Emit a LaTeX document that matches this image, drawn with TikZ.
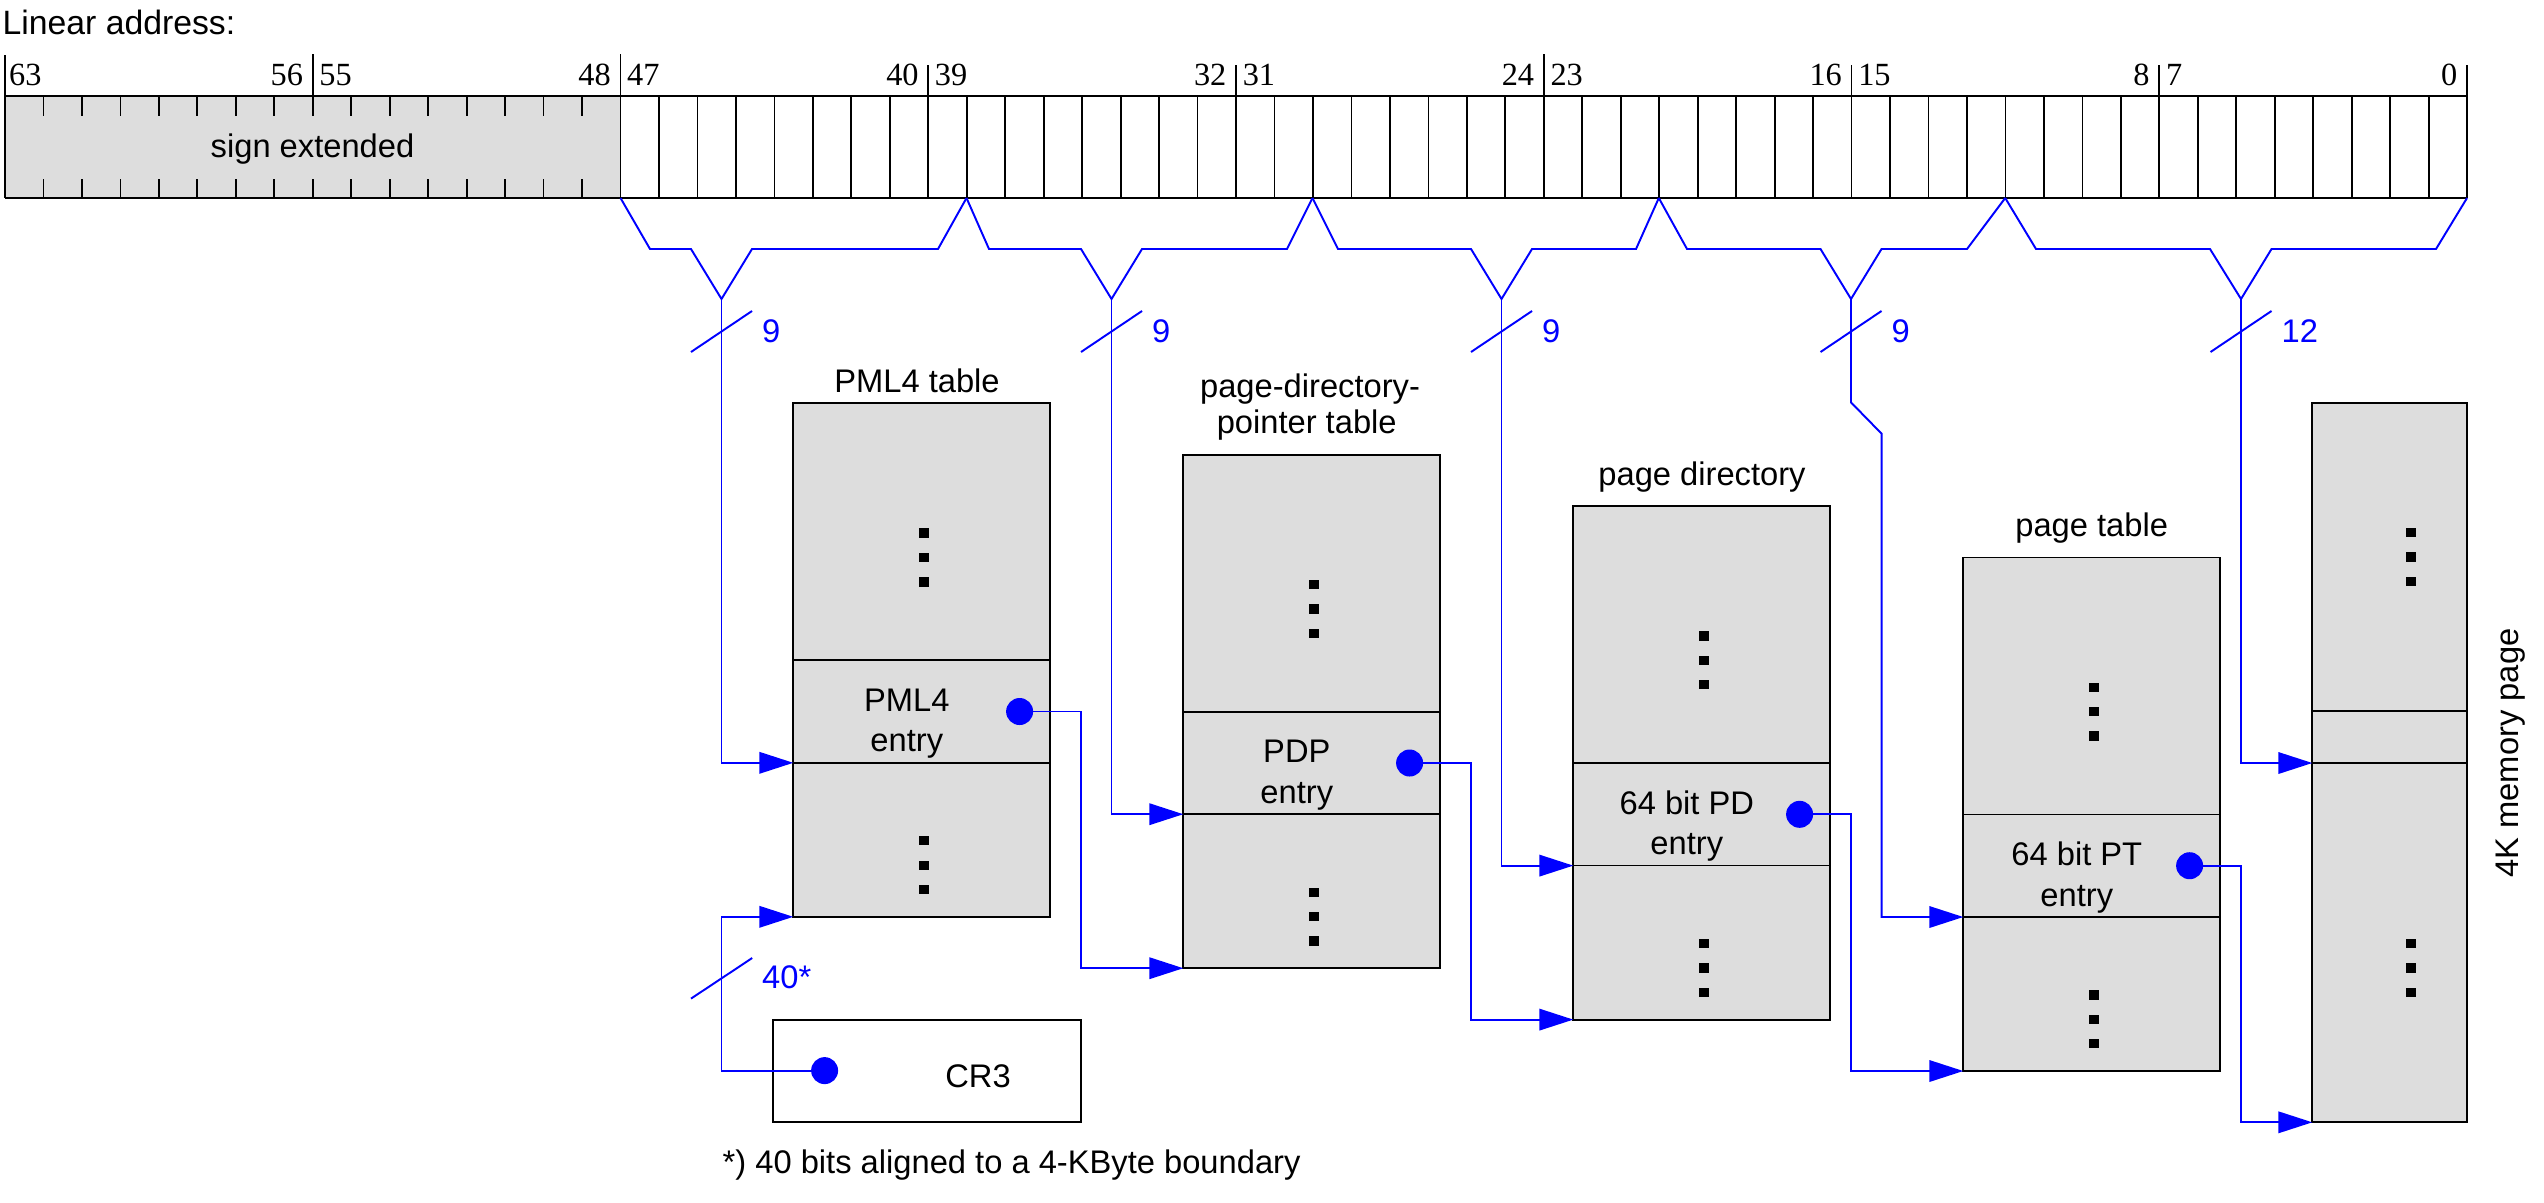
\documentclass[tikz,border=0pt]{standalone}
\usepackage{fontspec}
\setmainfont{Liberation Sans}
\newfontfamily\serifnum{Liberation Serif}
\usetikzlibrary{arrows.meta,calc}
\definecolor{cellgray}{RGB}{221,221,221}
\definecolor{lblue}{RGB}{0,0,255}
\newcommand\mydots[2]{%
  \foreach \dd in {-24.4,0,24.4}{\fill[black] ($(#1,#2)+(-4.65,\dd-4.65)$) rectangle ++(9.3,9.3);}}
\begin{document}
\begin{tikzpicture}[x=0.1mm,y=-0.1mm,
  box/.style={draw=black, line width=0.55pt, fill=cellgray},
  thin/.style={draw=black, line width=0.5pt},
  wire/.style={draw=lblue, line width=0.55pt},
  arr/.style={wire, -{Triangle[length=3.4mm,width=2.15mm]}},
  lbl/.style={font=\fontsize{9.3}{11}\selectfont, inner sep=0},
  num/.style={font=\fontsize{9.2}{10}\serifnum, inner sep=0},
  bl/.style={font=\fontsize{9.3}{11}\selectfont, text=lblue, inner sep=0},
  dot/.style={circle, fill=lblue, inner sep=0, minimum size=2.7mm},
]
\useasboundingbox (0,0) rectangle (2544,1202);

% ---------- linear address register ----------
\node[lbl, font=\fontsize{9.6}{11}\selectfont, anchor=base west] (linaddr) at (2,34) {Linear address:};
\fill[cellgray] (5,96) rectangle (620.5,198);
\foreach \k in {1,2,3,4,5,6,7,8,9,10,11,12,13,14,15}{
  \pgfmathsetmacro\xx{5+38.47*\k}
  \draw[thin] (\xx,96) -- (\xx,115.5);
  \draw[thin] (\xx,198) -- (\xx,178.5);
}
\foreach \k in {17,...,23,25,26,...,31,33,34,...,39,41,42,...,47,49,50,...,55,57,58,...,63}{
  \pgfmathsetmacro\xx{5+38.47*\k}
  \draw[thin] (\xx,96) -- (\xx,198);
}
\foreach \k/\yt in {0/55,16/54,40/54,24/65,32/65,48/65,56/65,64/65}{
  \pgfmathsetmacro\xx{5+38.47*\k}
  \draw[thin] (\xx,\yt) -- (\xx,198);
}
\draw[thin] (312.8,54) -- (312.8,96);
\draw[thin] (5,96) -- (2467,96);
\draw[black, line width=0.8pt] (5,198) -- (2467,198);
\node[lbl, anchor=base] (signext) at (312.5,157) {sign extended};

% bit numbers
\foreach \k/\lft/\rgt in {8/56/55,16/48/47,24/40/39,32/32/31,40/24/23,48/16/15,56/8/7}{
  \pgfmathsetmacro\xx{5+38.47*\k}
  \node[num, anchor=base east] (nl\k) at (\xx-9,85) {\lft};
  \node[num, anchor=base west] (nr\k) at (\xx+6,85) {\rgt};
}
\node[num, anchor=base west] (n63) at (8.5,85) {63};
\node[num, anchor=base east] (n0) at (2458,85) {0};

% register boundary points
\coordinate (b16) at (620.5,198);
\coordinate (b25) at (966.5,198);
\coordinate (b34) at (1312.5,198);
\coordinate (b43) at (1658.8,198);
\coordinate (b52) at (2005.2,198);
\coordinate (b64) at (2467,198);
\coordinate (ap1) at (721.5,299);
\coordinate (ap2) at (1111.5,299);
\coordinate (ap3) at (1501.5,299);
\coordinate (ap4) at (1851,299);
\coordinate (ap5) at (2241,299);

% brackets
\draw[wire] (b16) -- (650,249) -- (691,249) -- (ap1) -- (752,249) -- (938,249) -- (b25);
\draw[wire] (b25) -- (989,249) -- (1081,249) -- (ap2) -- (1142,249) -- (1287,249) -- (b34);
\draw[wire] (b34) -- (1338,249) -- (1471,249) -- (ap3) -- (1532,249) -- (1636,249) -- (b43);
\draw[wire] (b43) -- (1687,249) -- (1820.5,249) -- (ap4) -- (1881.5,249) -- (1967,249) -- (b52);
\draw[wire] (b52) -- (2036,249) -- (2210,249) -- (ap5) -- (2271.5,249) -- (2436,249) -- (b64);

% width slashes and labels
\foreach \X/\n/\t in {721.5/1/9,1111.5/2/9,1501.5/3/9,1851/4/9,2241/5/12}{
  \draw[wire] (\X-30.5,352) -- (\X+30.5,311);
  \node[bl, anchor=base west] (w\n) at (\X+40,342.3) {\t};
}

% ---------- tables ----------
% PML4 (i=0)
\draw[box] (793.3,403.3) rectangle (1050.3,916.8);
\draw[thin] (793.3,660.3) -- (1050.3,660.3);
\draw[thin] (793.3,762.8) -- (1050.3,762.8);
\coordinate (pmlF) at (793.3,762.8);
\coordinate (pmlB) at (793.3,916.8);
\node[lbl, anchor=base] (pmlt) at (917,392.3) {PML4 table};
\node[lbl, anchor=base] (pmla) at (906.8,711.3) {PML4};
\node[lbl, anchor=base] (pmlb) at (906.8,751.8) {entry};
\mydots{924}{557.5}
\mydots{924}{865.2}

% PDPT (i=1)
\draw[box] (1183.3,454.7) rectangle (1440.3,968.2);
\draw[thin] (1183.3,711.7) -- (1440.3,711.7);
\draw[thin] (1183.3,814.2) -- (1440.3,814.2);
\coordinate (pdpF) at (1183.3,814.2);
\coordinate (pdpB) at (1183.3,968.2);
\node[lbl, anchor=base] (pdpt1) at (1310,397) {page-directory-};
\node[lbl, anchor=base] (pdpt2) at (1306.7,433.3) {pointer table};
\node[lbl, anchor=base] (pdpa) at (1296.8,762.7) {PDP};
\node[lbl, anchor=base] (pdpb) at (1296.8,803.2) {entry};
\mydots{1314}{608.9}
\mydots{1314}{916.6}

% PD (i=2)
\draw[box] (1573.3,506.1) rectangle (1830.3,1019.6);
\draw[thin] (1573.3,763.1) -- (1830.3,763.1);
\draw[thin] (1573.3,865.6) -- (1830.3,865.6);
\coordinate (pdF) at (1573.3,865.6);
\coordinate (pdB) at (1573.3,1019.6);
\node[lbl, anchor=base] (pdt) at (1702,485) {page directory};
\node[lbl, anchor=base] (pda) at (1686.8,814.1) {64 bit PD};
\node[lbl, anchor=base] (pdb) at (1686.8,854.6) {entry};
\mydots{1704}{660.3}
\mydots{1704}{968}

% PT (i=3)
\draw[box] (1963.3,557.5) rectangle (2220.3,1071);
\draw[thin] (1963.3,814.5) -- (2220.3,814.5);
\draw[thin] (1963.3,917) -- (2220.3,917);
\coordinate (ptF) at (1963.3,917);
\coordinate (ptB) at (1963.3,1071);
\node[lbl, anchor=base] (ptt) at (2091.7,536.7) {page table};
\node[lbl, anchor=base] (pta) at (2076.8,865.5) {64 bit PT};
\node[lbl, anchor=base] (ptb) at (2076.8,906) {entry};
\mydots{2094}{711.7}
\mydots{2094}{1019.4}

% 4K memory page
\draw[box] (2312.3,403.4) rectangle (2466.5,1122.3);
\draw[thin] (2312.3,710.8) -- (2466.5,710.8);
\draw[thin] (2312.3,763) -- (2466.5,763);
\coordinate (pgF) at (2312.3,763);
\coordinate (pgB) at (2312.3,1122.3);
\mydots{2411}{557}
\mydots{2411}{968}
\node[lbl, rotate=90, anchor=base] (pgt) at (2518.7,753) {4K memory page};

% CR3
\draw[thin, fill=white] (772.8,1019.8) rectangle (1081.3,1122.1);
\node[lbl, anchor=base] (cr3t) at (978,1087.6) {CR3};
\node[lbl, anchor=base west] (foot) at (722,1173.7) {*) 40 bits aligned to a 4-KByte boundary};

% ---------- wires ----------
\coordinate (d0) at (1019.6,711.5);
\coordinate (d1) at (1409.6,763);
\coordinate (d2) at (1799.6,814.3);
\coordinate (d3) at (2189.6,865.7);
\coordinate (dc) at (824.6,1070.6);

\draw[arr] (ap1) |- (pmlF);
\draw[arr] (ap2) |- (pdpF);
\draw[arr] (ap3) |- (pdF);
\draw[arr] (ap4) -- (1851,402.4) -- (1881.6,433.7) |- (ptF);
\draw[arr] (ap5) |- (pgF);

\draw[arr] (dc) -| (ap1 |- pmlB) -- (pmlB);
\draw[wire] (691,998.6) -- (752.2,958);
\node[bl, anchor=base west] (w40) at (761.5,988.7) {40*};

\draw[arr] (d0) -- (1081,711.5) |- (pdpB);
\draw[arr] (d1) -- (1471,763) |- (pdB);
\draw[arr] (d2) -- (1851,814.3) |- (ptB);
\draw[arr] (d3) -- (2241,865.7) |- (pgB);

\node[dot] (dot0) at (d0) {};
\node[dot] (dot1) at (d1) {};
\node[dot] (dot2) at (d2) {};
\node[dot] (dot3) at (d3) {};
\node[dot] (dotc) at (dc) {};
\end{tikzpicture}
\end{document}
